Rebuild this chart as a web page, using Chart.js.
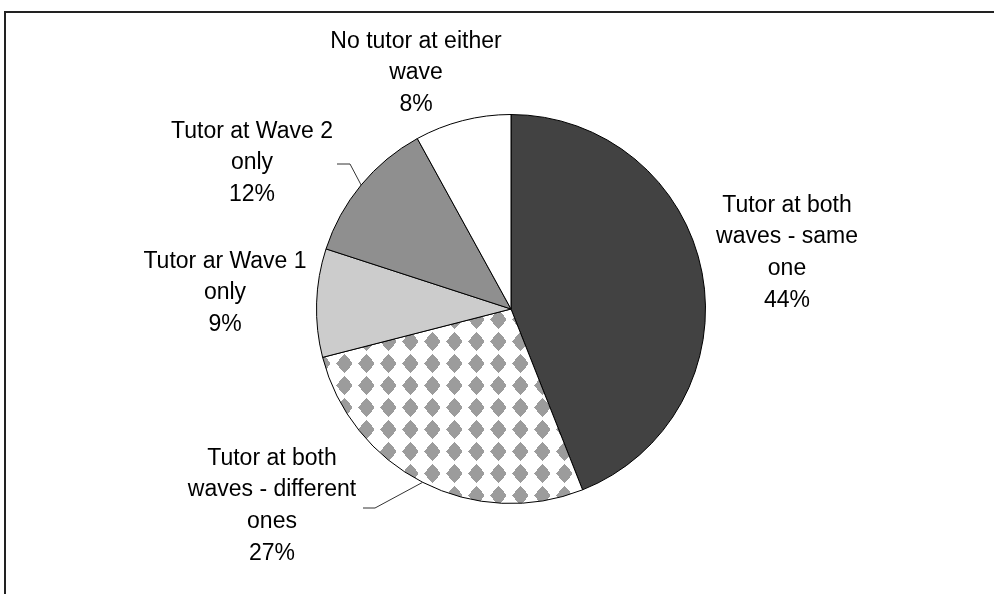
<!DOCTYPE html>
<html>
<head>
<meta charset="utf-8">
<script src="https://cdn.jsdelivr.net/npm/chart.js@4.4.0/dist/chart.umd.min.js"></script>
<style>
    html, body { margin: 0; padding: 0; background: #ffffff; }
    #wrap { width: 994px; height: 594px; }
</style>
</head>
<body>
<div id="wrap"><canvas id="myChart" width="994" height="594"></canvas></div>
<script>
/* DONNEES DU GRAPHIQUE (ordre : depuis midi, sens horaire) */
const categories = [
    ['Tutor at both', 'waves - same', 'one'],
    ['Tutor at both', 'waves - different', 'ones'],
    ['Tutor ar Wave 1', 'only'],
    ['Tutor at Wave 2', 'only'],
    ['No tutor at either', 'wave']
];
const percentages = [44, 27, 9, 12, 8];

/* motif "diamants" gris sur blanc pour la part 27% */
function diamondPattern() {
    const tile = document.createElement('canvas');
    tile.width = 22;
    tile.height = 22;
    const t = tile.getContext('2d');
    t.fillStyle = '#ffffff';
    t.fillRect(0, 0, 22, 22);
    t.fillStyle = '#9c9c9c';
    for (let dy = -9; dy <= 9; dy++) {
        const hw = Math.round(8 * (1 - Math.abs(dy) / 9.5));
        t.fillRect(14 - hw, 11 + dy, hw * 2 + 1, 1);
    }
    return t.createPattern(tile, 'repeat');
}

const ctx = document.getElementById('myChart').getContext('2d');

/* position des etiquettes par rapport au centre du camembert */
const labelPlugin = {
    id: 'outsideLabels',
    beforeDraw(chart) {
        const c = chart.ctx;
        c.save();
        c.strokeStyle = '#222222';
        c.lineWidth = 2;
        c.strokeRect(5, 12, 1200, 800);
        c.restore();
    },
    afterDatasetsDraw(chart, args, opts) {
        const c = chart.ctx;
        const meta = chart.getDatasetMeta(0);
        c.save();
        c.font = opts.font;
        c.fillStyle = '#000000';
        c.textAlign = 'center';
        c.textBaseline = 'middle';
        meta.data.forEach(function(arc, i) {
            const p = arc.getProps(['x', 'y', 'startAngle', 'endAngle', 'outerRadius'], true);
            const place = opts.places[i];
            const lines = categories[i].concat([percentages[i] + '%']);
            const top = p.y + place.dy - (lines.length - 1) / 2 * opts.lineHeight;
            lines.forEach(function(txt, k) {
                c.fillText(txt, p.x + place.dx, top + k * opts.lineHeight);
            });
            /* trait de rappel */
            if (place.elbow) {
                const mid = (p.startAngle + p.endAngle) / 2;
                const sx = p.x + Math.cos(mid) * p.outerRadius;
                const sy = p.y + Math.sin(mid) * p.outerRadius;
                const ex = p.x + place.elbow[0];
                const ey = p.y + place.elbow[1];
                c.beginPath();
                c.strokeStyle = '#333333';
                c.lineWidth = 1;
                c.moveTo(sx, sy);
                c.lineTo(ex, ey);
                c.lineTo(ex - place.tail, ey);
                c.stroke();
            }
        });
        c.restore();
    }
};

const myChart = new Chart(ctx, {
    type: 'pie',
    data: {
        labels: categories.map(function(l) { return l.join(' '); }),
        datasets: [{
            data: percentages,
            backgroundColor: ['#424242', diamondPattern(), '#cccccc', '#8f8f8f', '#ffffff'],
            borderColor: '#000000',
            borderWidth: 1
        }]
    },
    options: {
        responsive: false,
        animation: false,
        devicePixelRatio: 1,
        layout: {
            padding: { top: 114, bottom: 90, left: 316, right: 288 }
        },
        plugins: {
            legend: { display: false },
            tooltip: { enabled: false },
            outsideLabels: {
                font: '23px "Liberation Sans", Arial, sans-serif',
                lineHeight: 31.7,
                places: [
                    { dx: 276, dy: -56 },
                    { dx: -239, dy: 197, elbow: [-136, 199], tail: 12 },
                    { dx: -286, dy: -16 },
                    { dx: -259, dy: -146, elbow: [-161, -145], tail: 13 },
                    { dx: -95, dy: -236 }
                ]
            }
        }
    },
    plugins: [labelPlugin]
});
</script>
</body>
</html>
